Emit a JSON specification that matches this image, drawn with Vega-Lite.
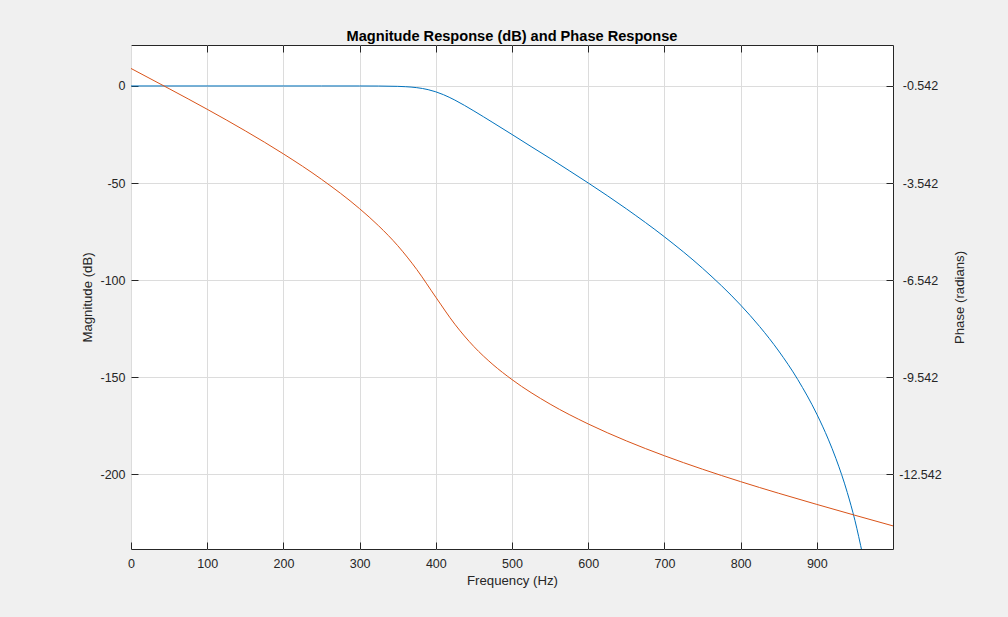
{
  "$schema": "https://vega.github.io/schema/vega-lite/v6.json",
  "width": 762,
  "height": 504,
  "autosize": {"type": "none"},
  "padding": {"left": 131, "top": 45, "right": 115, "bottom": 68},
  "background": "#f0f0f0",
  "config": {
    "view": {"fill": "white", "stroke": "#262626", "strokeWidth": 1},
    "font": "Liberation Sans",
    "locale": {"number": {"decimal": ".", "thousands": ",", "grouping": [3], "currency": ["$", ""], "minus": "-"}},
    "axis": {
      "labelFont": "Liberation Sans",
      "labelFontSize": 12.5,
      "labelColor": "#262626",
      "titleFont": "Liberation Sans",
      "titleFontSize": 13.2,
      "titleFontWeight": "normal",
      "titleColor": "#262626",
      "domain": false,
      "tickColor": "#262626",
      "tickSize": -7,
      "gridColor": "#dcdcdc",
      "gridWidth": 1
    }
  },
  "title": {
    "text": "Magnitude Response (dB) and Phase Response",
    "font": "Liberation Sans",
    "fontSize": 14.6,
    "fontWeight": "bold",
    "color": "#000000",
    "anchor": "middle",
    "offset": 1
  },
  "datasets": {
    "mag": [
      {"f": 0, "mag": 0},
      {"f": 100, "mag": 0},
      {"f": 200, "mag": 0},
      {"f": 250, "mag": 0},
      {"f": 300, "mag": -0.007},
      {"f": 325, "mag": -0.04},
      {"f": 350, "mag": -0.198},
      {"f": 360, "mag": -0.365},
      {"f": 375, "mag": -0.868},
      {"f": 390, "mag": -1.903},
      {"f": 400, "mag": -3.01},
      {"f": 410, "mag": -4.483},
      {"f": 425, "mag": -7.277},
      {"f": 450, "mag": -12.87},
      {"f": 475, "mag": -18.88},
      {"f": 500, "mag": -24.99},
      {"f": 525, "mag": -31.19},
      {"f": 550, "mag": -37.3},
      {"f": 575, "mag": -43.6},
      {"f": 600, "mag": -49.95},
      {"f": 650, "mag": -63.26},
      {"f": 700, "mag": -77.69},
      {"f": 750, "mag": -93.87},
      {"f": 800, "mag": -112.85},
      {"f": 825, "mag": -123.92},
      {"f": 850, "mag": -136.51},
      {"f": 875, "mag": -151.21},
      {"f": 900, "mag": -169.03},
      {"f": 915, "mag": -181.9},
      {"f": 925, "mag": -191.8},
      {"f": 940, "mag": -209.38},
      {"f": 950, "mag": -223.7},
      {"f": 960, "mag": -241.2}
    ],
    "phase": [
      {"f": 0, "phase": 0},
      {"f": 50, "phase": -0.625},
      {"f": 100, "phase": -1.262},
      {"f": 150, "phase": -1.928},
      {"f": 200, "phase": -2.64},
      {"f": 250, "phase": -3.426},
      {"f": 300, "phase": -4.334},
      {"f": 325, "phase": -4.864},
      {"f": 350, "phase": -5.476},
      {"f": 375, "phase": -6.213},
      {"f": 400, "phase": -7.069},
      {"f": 425, "phase": -7.904},
      {"f": 450, "phase": -8.595},
      {"f": 475, "phase": -9.152},
      {"f": 500, "phase": -9.616},
      {"f": 550, "phase": -10.373},
      {"f": 600, "phase": -10.986},
      {"f": 650, "phase": -11.509},
      {"f": 700, "phase": -11.969},
      {"f": 750, "phase": -12.385},
      {"f": 800, "phase": -12.769},
      {"f": 850, "phase": -13.129},
      {"f": 900, "phase": -13.473},
      {"f": 950, "phase": -13.808},
      {"f": 1000, "phase": -14.137}
    ]
  },
  "layer": [
    {
      "data": {"name": "mag"},
      "mark": {"type": "line", "color": "#0072BD", "strokeWidth": 1, "clip": true, "interpolate": "monotone"},
      "encoding": {
        "x": {
          "field": "f",
          "type": "quantitative",
          "scale": {"domain": [0, 1000], "nice": false, "zero": false},
          "axis": {
            "orient": "bottom",
            "values": [0, 100, 200, 300, 400, 500, 600, 700, 800, 900],
            "grid": true,
            "title": "Frequency (Hz)",
            "labelPadding": 15,
            "titlePadding": 5,
            "labelFlush": false
          }
        },
        "y": {
          "field": "mag",
          "type": "quantitative",
          "scale": {"domain": [-238.5, 21.1], "nice": false, "zero": false},
          "axis": {
            "orient": "left",
            "values": [0, -50, -100, -150, -200],
            "grid": true,
            "title": "Magnitude (dB)",
            "labelPadding": 13,
            "titlePadding": 5
          }
        }
      }
    },
    {
      "data": {"name": "phase"},
      "mark": {"type": "line", "color": "#D95319", "strokeWidth": 1, "clip": true, "interpolate": "monotone"},
      "encoding": {
        "x": {
          "field": "f",
          "type": "quantitative",
          "scale": {"domain": [0, 1000], "nice": false, "zero": false},
          "axis": {
            "orient": "top",
            "values": [100, 200, 300, 400, 500, 600, 700, 800, 900],
            "grid": false,
            "labels": false,
            "title": null
          }
        },
        "y": {
          "field": "phase",
          "type": "quantitative",
          "scale": {"domain": [-14.851, 0.725], "nice": false, "zero": false},
          "axis": {
            "orient": "right",
            "values": [-0.542, -3.542, -6.542, -9.542, -12.542],
            "format": ".3f",
            "grid": false,
            "labelAlign": "center",
            "labelPadding": 34,
            "title": "Phase (radians)",
            "titleAngle": 270,
            "titleBaseline": "top",
            "titlePadding": 12
          }
        }
      }
    }
  ],
  "resolve": {
    "scale": {"x": "independent", "y": "independent"},
    "axis": {"x": "independent", "y": "independent"}
  }
}
